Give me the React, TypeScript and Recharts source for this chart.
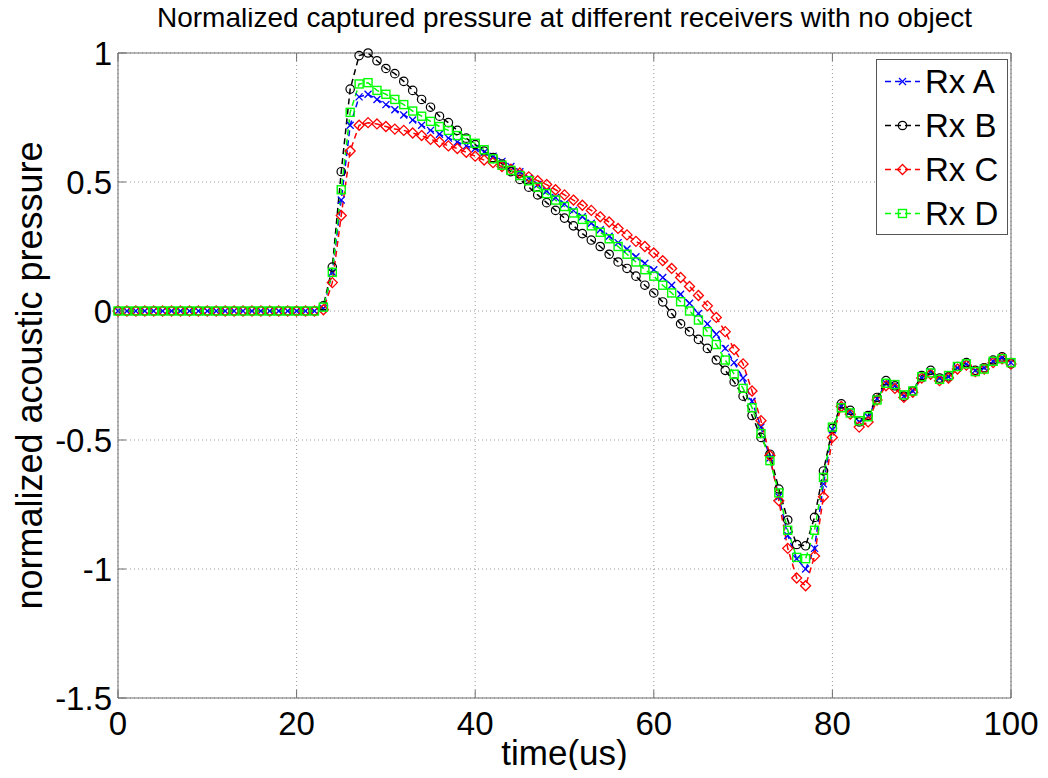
import { LineChart, Line, XAxis, YAxis, CartesianGrid, Legend } from "recharts";

// sample times in us (one sample per microsecond)
const time = Array.from({ length: 101 }, (_, i) => i);

// normalized acoustic pressure
const rxA = [
  0, 0, 0, 0, 0, 0, 0, 0, 0, 0, 0, 0, 0, 0, 0, 0, 0, 0, 0, 0, 0, 0, 0,
  0.01, 0.15, 0.43, 0.72, 0.83, 0.84, 0.82, 0.8, 0.78, 0.76, 0.74, 0.72, 0.7, 0.685, 0.67, 0.655, 0.64,
  0.63, 0.615, 0.6, 0.58, 0.56, 0.54, 0.515, 0.49, 0.465, 0.44, 0.415, 0.39, 0.365, 0.34, 0.315, 0.29,
  0.265, 0.24, 0.21, 0.185, 0.16, 0.13, 0.1, 0.065, 0.03, -0.01, -0.05, -0.09, -0.145, -0.2, -0.26,
  -0.35, -0.45, -0.57, -0.72, -0.87, -0.96, -1.0, -0.92, -0.67, -0.46, -0.37, -0.39, -0.43, -0.41,
  -0.34, -0.28, -0.29, -0.33, -0.31, -0.26, -0.235, -0.26, -0.255, -0.22, -0.205, -0.23, -0.22, -0.195,
  -0.18, -0.2,
];
const rxB = [
  0, 0, 0, 0, 0, 0, 0, 0, 0, 0, 0, 0, 0, 0, 0, 0, 0, 0, 0, 0, 0, 0, 0,
  0.02, 0.17, 0.54, 0.86, 0.99, 1.0, 0.97, 0.94, 0.92, 0.89, 0.855, 0.82, 0.79, 0.755, 0.73, 0.7, 0.67,
  0.645, 0.62, 0.595, 0.57, 0.54, 0.51, 0.48, 0.45, 0.42, 0.39, 0.36, 0.33, 0.3, 0.275, 0.25, 0.22,
  0.19, 0.165, 0.135, 0.1, 0.07, 0.035, -0.01, -0.05, -0.08, -0.11, -0.145, -0.19, -0.23, -0.275, -0.33,
  -0.405, -0.49, -0.555, -0.69, -0.81, -0.905, -0.91, -0.8, -0.62, -0.455, -0.36, -0.385, -0.43, -0.405,
  -0.335, -0.27, -0.29, -0.33, -0.31, -0.25, -0.23, -0.26, -0.255, -0.215, -0.2, -0.23, -0.22, -0.19,
  -0.178, -0.205,
];
const rxC = [
  0, 0, 0, 0, 0, 0, 0, 0, 0, 0, 0, 0, 0, 0, 0, 0, 0, 0, 0, 0, 0, 0, 0,
  0.005, 0.11, 0.37, 0.62, 0.72, 0.73, 0.725, 0.715, 0.705, 0.7, 0.69, 0.68, 0.665, 0.655, 0.64, 0.63, 0.615,
  0.6, 0.585, 0.575, 0.56, 0.55, 0.535, 0.52, 0.505, 0.49, 0.47, 0.45, 0.43, 0.41, 0.39, 0.365, 0.345,
  0.32, 0.295, 0.27, 0.25, 0.225, 0.195, 0.165, 0.13, 0.095, 0.06, 0.02, -0.025, -0.08, -0.15, -0.205,
  -0.31, -0.425, -0.56, -0.735, -0.92, -1.035, -1.065, -0.95, -0.72, -0.49, -0.37, -0.4, -0.45, -0.43,
  -0.345, -0.29, -0.3, -0.335, -0.315, -0.26, -0.245, -0.27, -0.26, -0.225, -0.21, -0.235, -0.225, -0.2,
  -0.185, -0.205,
];
const rxD = [
  0, 0, 0, 0, 0, 0, 0, 0, 0, 0, 0, 0, 0, 0, 0, 0, 0, 0, 0, 0, 0, 0, 0,
  0.015, 0.15, 0.47, 0.77, 0.88, 0.885, 0.855, 0.84, 0.82, 0.8, 0.775, 0.755, 0.735, 0.715, 0.7, 0.68, 0.665,
  0.65, 0.625, 0.59, 0.565, 0.545, 0.525, 0.505, 0.48, 0.455, 0.43, 0.405, 0.38, 0.355, 0.33, 0.305, 0.28,
  0.25, 0.22, 0.19, 0.16, 0.135, 0.1, 0.07, 0.036, 0.0, -0.035, -0.08, -0.13, -0.19, -0.245, -0.3,
  -0.375, -0.475, -0.58, -0.705, -0.85, -0.955, -0.96, -0.85, -0.645, -0.45, -0.375, -0.395, -0.425, -0.41,
  -0.345, -0.28, -0.285, -0.325, -0.31, -0.255, -0.24, -0.265, -0.25, -0.215, -0.205, -0.235, -0.225, -0.195,
  -0.185, -0.2,
];

const seriesKeys = ["A", "B", "C", "D"];
const seriesNames = ["Rx A", "Rx B", "Rx C", "Rx D"];
const seriesColors = ["#0000ff", "#000000", "#ff0000", "#00ff00"];
const seriesMarkers = ["x", "circle", "diamond", "square"];

const xTicks = [0, 20, 40, 60, 80, 100];
const yTicks = [-1.5, -1, -0.5, 0, 0.5, 1];

const data = time.map((t, i) => ({ t, A: rxA[i], B: rxB[i], C: rxC[i], D: rxD[i] }));

const FONT = "'Liberation Sans', Arial, Helvetica, sans-serif";
const FRAME = "#6f6f6f";
const TICK_LEN = 8;
const X_MARGIN = 14;
const Y_MARGIN = 6;
const TICK_FONT = 33;

function Marker({ kind, cx, cy, color }: { kind: string; cx: number; cy: number; color: string }) {
  if (cx == null || cy == null) return <g />;
  if (kind === "x") {
    const r = 3.5;
    return (
      <g stroke={color} strokeWidth={1.3}>
        <line x1={cx - r} y1={cy - r} x2={cx + r} y2={cy + r} />
        <line x1={cx - r} y1={cy + r} x2={cx + r} y2={cy - r} />
      </g>
    );
  }
  if (kind === "circle") {
    return <circle cx={cx} cy={cy} r={4.2} fill="none" stroke={color} strokeWidth={1.2} />;
  }
  if (kind === "diamond") {
    const r = 5;
    return (
      <polygon
        points={`${cx},${cy - r} ${cx + r},${cy} ${cx},${cy + r} ${cx - r},${cy}`}
        fill="none"
        stroke={color}
        strokeWidth={1.3}
      />
    );
  }
  const h = 4;
  return <rect x={cx - h} y={cy - h} width={2 * h} height={2 * h} fill="none" stroke={color} strokeWidth={1.4} />;
}

const BottomTick = (p: any) => (
  <g>
    <line x1={p.x} x2={p.x} y1={p.y - X_MARGIN} y2={p.y - X_MARGIN - TICK_LEN} stroke={FRAME} />
    <text x={p.x} y={p.y} dy="0.71em" textAnchor="middle" fontSize={TICK_FONT} fontFamily={FONT} fill="#000">
      {p.payload.value}
    </text>
  </g>
);

const LeftTick = (p: any) => (
  <g>
    <line x1={p.x + Y_MARGIN} x2={p.x + Y_MARGIN + TICK_LEN} y1={p.y} y2={p.y} stroke={FRAME} />
    <text x={p.x} y={p.y} dy="0.36em" textAnchor="end" fontSize={TICK_FONT} fontFamily={FONT} fill="#000">
      {p.payload.value}
    </text>
  </g>
);

const TopTick = (p: any) => <line x1={p.x} x2={p.x} y1={p.y} y2={p.y + TICK_LEN} stroke={FRAME} />;
const RightTick = (p: any) => <line x1={p.x - TICK_LEN} x2={p.x} y1={p.y} y2={p.y} stroke={FRAME} />;

const TitleLabel = (p: any) => {
  const vb = p.viewBox || { x: 118, y: 52, width: 893 };
  return (
    <text x={vb.x + vb.width / 2} y={vb.y - 25} textAnchor="middle" fontSize={28} fontFamily={FONT} fill="#000">
      Normalized captured pressure at different receivers with no object
    </text>
  );
};

const XTitle = (p: any) => {
  const vb = p.viewBox || { x: 118, y: 698, width: 893 };
  return (
    <text x={vb.x + vb.width / 2} y={vb.y + 67} textAnchor="middle" fontSize={35} fontFamily={FONT} fill="#000">
      time(us)
    </text>
  );
};

const YTitle = (p: any) => {
  const vb = p.viewBox || { x: 0, y: 53, height: 645 };
  const cx = vb.x + 42;
  const cy = vb.y + vb.height / 2;
  return (
    <text
      x={cx}
      y={cy}
      transform={`rotate(-90, ${cx}, ${cy})`}
      textAnchor="middle"
      fontSize={36}
      fontFamily={FONT}
      fill="#000"
    >
      normalized acoustic pressure
    </text>
  );
};

function LegendBox() {
  return (
    <svg width={133} height={177} style={{ display: "block" }}>
      <rect x={0.5} y={0.5} width={131} height={175} fill="#fff" stroke="#555" />
      {seriesNames.map((name, i) => {
        const cy = 22.5 + i * 44;
        return (
          <g key={name}>
            <line x1={9} x2={44} y1={cy} y2={cy} stroke={seriesColors[i]} strokeWidth={1.5} strokeDasharray="6 4" />
            <Marker kind={seriesMarkers[i]} cx={26.5} cy={cy} color={seriesColors[i]} />
            <text x={49} y={cy} dy="0.36em" fontSize={TICK_FONT} fontFamily={FONT} fill="#000">
              {name}
            </text>
          </g>
        );
      })}
    </svg>
  );
}

export default function App() {
  return (
    <div style={{ width: 1048, height: 778, margin: -8, background: "#fff" }}>
      <LineChart width={1048} height={778} data={data} margin={{ top: 52, right: 36, bottom: 0, left: 0 }}>
        <CartesianGrid stroke="#9a9a9a" strokeDasharray="1 3" />
        <XAxis
          dataKey="t"
          type="number"
          domain={[0, 100]}
          ticks={xTicks}
          height={80}
          tickSize={0}
          tickMargin={X_MARGIN}
          tickLine={false}
          axisLine={{ stroke: FRAME }}
          tick={BottomTick}
          interval={0}
          label={<XTitle />}
        />
        <XAxis
          xAxisId="top"
          orientation="top"
          dataKey="t"
          type="number"
          domain={[0, 100]}
          ticks={xTicks}
          height={1}
          tickSize={0}
          tickMargin={0}
          tickLine={false}
          axisLine={{ stroke: FRAME }}
          tick={TopTick}
          interval={0}
          label={<TitleLabel />}
        />
        <YAxis
          type="number"
          domain={[-1.5, 1]}
          ticks={yTicks}
          width={118}
          tickSize={0}
          tickMargin={Y_MARGIN}
          tickLine={false}
          axisLine={{ stroke: FRAME }}
          tick={LeftTick}
          interval={0}
          label={<YTitle />}
        />
        <YAxis
          yAxisId="right"
          orientation="right"
          type="number"
          domain={[-1.5, 1]}
          ticks={yTicks}
          width={1}
          tickSize={0}
          tickMargin={0}
          tickLine={false}
          axisLine={{ stroke: FRAME }}
          tick={RightTick}
          interval={0}
        />
        <Legend
          layout="vertical"
          align="center"
          verticalAlign="middle"
          content={() => <LegendBox />}
          wrapperStyle={{ left: 876, top: 59, width: 133, height: 177 }}
        />
        {seriesKeys.map((k, i) => (
          <Line
            key={k}
            dataKey={k}
            name={seriesNames[i]}
            type="linear"
            stroke={seriesColors[i]}
            strokeWidth={1.5}
            strokeDasharray="6 4"
            isAnimationActive={false}
            activeDot={false}
            dot={(p: any) => (
              <Marker key={`${k}-${p.index}`} kind={seriesMarkers[i]} cx={p.cx} cy={p.cy} color={seriesColors[i]} />
            )}
          />
        ))}
      </LineChart>
    </div>
  );
}
